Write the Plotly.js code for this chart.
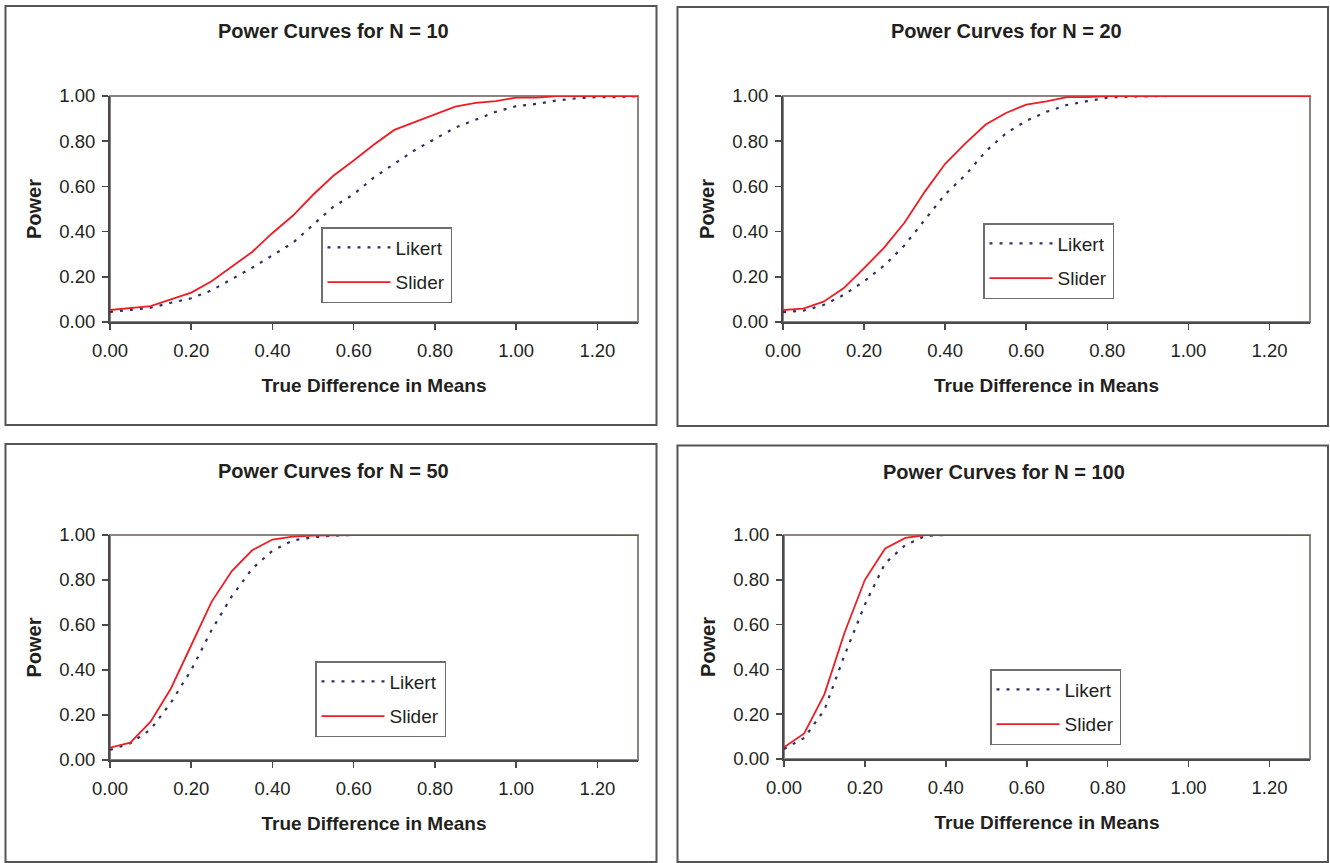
<!DOCTYPE html>
<html>
<head>
<meta charset="utf-8">
<script src="https://cdn.plot.ly/plotly-3.0.1.min.js"></script>
<style>
html,body{margin:0;padding:0;background:#fff;}
#chart{width:1330px;height:863px;}
</style>
</head>
<body>
<div id="chart"></div>
<script>
// ---- data ----
var diffs = [0.00,0.05,0.10,0.15,0.20,0.25,0.30,0.35,0.40,0.45,0.50,0.55,0.60,0.65,0.70,0.75,0.80,0.85,0.90,0.95,1.00,1.05,1.10,1.15,1.20,1.25,1.30];
var sampleSizes = [10, 20, 50, 100];
var seriesNames = ["Likert", "Slider"];

var likert10 = [0.045,0.055,0.063,0.085,0.105,0.140,0.190,0.240,0.295,0.350,0.430,0.510,0.565,0.640,0.700,0.760,0.810,0.860,0.895,0.930,0.955,0.965,0.980,0.990,0.995,0.995,1.000];
var slider10 = [0.053,0.062,0.070,0.100,0.130,0.180,0.245,0.310,0.394,0.470,0.563,0.647,0.715,0.785,0.850,0.885,0.920,0.953,0.970,0.977,0.993,0.993,1.000,1.000,1.000,1.000,1.000];

var likert20 = [0.044,0.050,0.075,0.120,0.180,0.250,0.340,0.450,0.565,0.650,0.755,0.835,0.890,0.930,0.960,0.977,0.993,0.997,1.000,1.000,1.000,1.000,1.000,1.000,1.000,1.000,1.000];
var slider20 = [0.053,0.059,0.090,0.150,0.238,0.330,0.440,0.577,0.700,0.790,0.874,0.925,0.962,0.976,0.995,0.995,1.000,1.000,1.000,1.000,1.000,1.000,1.000,1.000,1.000,1.000,1.000];

var likert50 = [0.045,0.074,0.136,0.255,0.400,0.577,0.728,0.850,0.930,0.976,0.990,0.997,1.000,1.000,1.000,1.000,1.000,1.000,1.000,1.000,1.000,1.000,1.000,1.000,1.000,1.000,1.000];
var slider50 = [0.055,0.077,0.170,0.318,0.510,0.703,0.840,0.932,0.980,0.993,0.997,1.000,1.000,1.000,1.000,1.000,1.000,1.000,1.000,1.000,1.000,1.000,1.000,1.000,1.000,1.000,1.000];

var likert100 = [0.045,0.094,0.220,0.465,0.690,0.874,0.955,0.996,1.000,1.000,1.000,1.000,1.000,1.000,1.000,1.000,1.000,1.000,1.000,1.000,1.000,1.000,1.000,1.000,1.000,1.000,1.000];
var slider100 = [0.052,0.114,0.290,0.566,0.800,0.940,0.987,1.000,1.000,1.000,1.000,1.000,1.000,1.000,1.000,1.000,1.000,1.000,1.000,1.000,1.000,1.000,1.000,1.000,1.000,1.000,1.000];

var likertSets = [likert10, likert20, likert50, likert100];
var sliderSets = [slider10, slider20, slider50, slider100];

var xTickVals = [0.00,0.20,0.40,0.60,0.80,1.00,1.20];
var yTickVals = [0.00,0.20,0.40,0.60,0.80,1.00];
var xTitle = "True Difference in Means";
var yTitle = "Power";

// ---- layout geometry (pixels in a 1330x863 page) ----
var W = 1330, H = 863;
function px(x){return x/W;}
function py(y){return 1 - y/H;}

var panels = [
  {plot:[110,638,96,322],  box:[5.5,656.5,6,425],    title:[333,31],   legend:[321,227]},
  {plot:[783,1310,96,322], box:[677.5,1328,7,426],   title:[1006,31],  legend:[983,223]},
  {plot:[110,638,535,760], box:[5.5,656.5,444,862],  title:[333,471],  legend:[315,661]},
  {plot:[784,1310,535,759],box:[677.5,1328,445.5,862],title:[1004,472],legend:[990,669]}
];

var FONT = "Liberation Sans, Arial, Helvetica, sans-serif";
var TXT = "#231f20";
var likertColor = "#2e3163";
var sliderColor = "#ee1d24";

var data = [];
var layout = {
  width: W, height: H,
  margin: {l:0, r:0, t:0, b:0},
  paper_bgcolor: "#fff",
  plot_bgcolor: "#fff",
  font: {family: FONT, color: TXT, size: 18},
  showlegend: true,
  shapes: [],
  annotations: []
};

panels.forEach(function(p, i){
  var n = i + 1;
  var xa = n === 1 ? "x" : "x" + n;
  var ya = n === 1 ? "y" : "y" + n;
  var lg = n === 1 ? "legend" : "legend" + n;

  data.push({
    x: diffs, y: likertSets[i], xaxis: xa, yaxis: ya,
    type: "scatter", mode: "lines", name: seriesNames[0],
    legend: lg, legendgroup: "L" + n,
    line: {color: likertColor, width: 2.2, dash: "3px,7px"},
    hoverinfo: "x+y"
  });
  data.push({
    x: diffs, y: sliderSets[i], xaxis: xa, yaxis: ya,
    type: "scatter", mode: "lines", name: seriesNames[1],
    legend: lg, legendgroup: "S" + n,
    line: {color: sliderColor, width: 1.8},
    hoverinfo: "x+y"
  });

  var xKey = n === 1 ? "xaxis" : "xaxis" + n;
  var yKey = n === 1 ? "yaxis" : "yaxis" + n;
  layout[xKey] = {
    domain: [px(p.plot[0]), px(p.plot[1])],
    anchor: ya,
    range: [0, 1.30],
    tickvals: xTickVals,
    tickformat: ".2f",
    ticks: "outside", ticklen: 6, tickwidth: 1.5, tickcolor: "#4a4a4a",
    showline: true, linecolor: "#4a4a4a", linewidth: 2,
    showgrid: false, zeroline: false,
    tickfont: {family: FONT, size: 18.5, color: TXT},
    ticklabelstandoff: 5,
    automargin: false,
    title: {text: xTitle, font: {family: FONT, size: 19, color: TXT, weight: "bold"}, standoff: 18}
  };
  layout[yKey] = {
    domain: [py(p.plot[3]), py(p.plot[2])],
    anchor: xa,
    range: [0, 1.0],
    tickvals: yTickVals,
    tickformat: ".2f",
    ticks: "outside", ticklen: 6, tickwidth: 1.5, tickcolor: "#4a4a4a",
    showline: true, linecolor: "#4a4a4a", linewidth: 2,
    showgrid: false, zeroline: false,
    tickfont: {family: FONT, size: 18.5, color: TXT},
    ticklabelstandoff: 3,
    automargin: false,
    title: {text: yTitle, font: {family: FONT, size: 20, color: TXT, weight: "bold"}, standoff: 12}
  };

  layout[lg] = {
    x: px(p.legend[0]), y: py(p.legend[1]),
    xanchor: "left", yanchor: "top",
    bgcolor: "#fff", bordercolor: "#6e6e6e", borderwidth: 1.5,
    font: {family: FONT, size: 19, color: TXT},
    itemwidth: 63,
    tracegroupgap: 7,
    traceorder: "grouped"
  };

  // plot-area frame (top and right edges, grey)
  layout.shapes.push({
    type: "rect", xref: xa + " domain", yref: ya + " domain",
    x0: 0, x1: 1, y0: 0, y1: 1,
    line: {color: "#8d8383", width: 2}, layer: "below"
  });
  // panel outer box
  layout.shapes.push({
    type: "rect", xref: "paper", yref: "paper",
    x0: px(p.box[0]), x1: px(p.box[1]), y0: py(p.box[3]), y1: py(p.box[2]),
    line: {color: "#555", width: 2}
  });
  // panel title
  layout.annotations.push({
    text: "Power Curves for N = " + sampleSizes[i],
    xref: "paper", yref: "paper",
    x: px(p.title[0]), y: py(p.title[1]),
    xanchor: "center", yanchor: "middle",
    showarrow: false,
    font: {family: FONT, size: 20, color: TXT, weight: "bold"}
  });
});

Plotly.newPlot("chart", data, layout, {displayModeBar: false, staticPlot: true});
</script>
</body>
</html>
